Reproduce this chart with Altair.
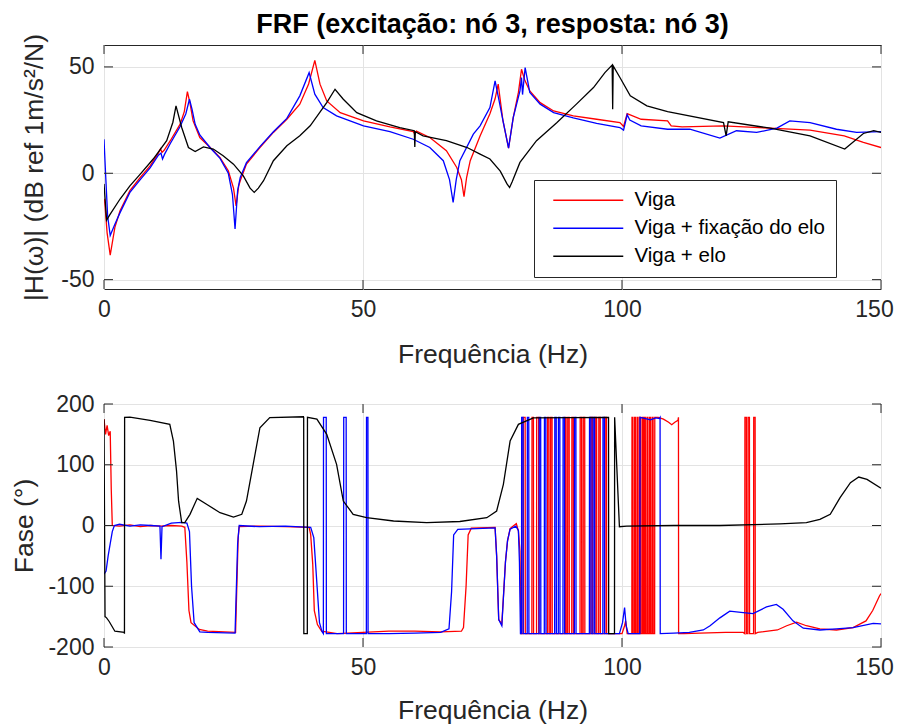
import altair as alt
import pandas as pd

SERIES = ["Viga", "Viga + fixação do elo", "Viga + elo"]
COLORS = ["#ff0000", "#0000ff", "#000000"]
FONT = "Liberation Sans"
TXT = "#262626"

# ---------------- magnitude (dB) ----------------
red_mag_f = [0.1, 0.6, 1.2, 2.1, 3.1, 5.0, 7.0, 8.9, 10.5, 10.9, 11.2, 11.6, 12.8, 14.7, 15.5, 16.1, 16.6, 17.2,
             18.5, 20.5, 22.4, 24.0, 25.0, 25.5, 26.0, 26.3, 27.5, 30.1, 32.7, 35.3, 37.8, 39.5, 40.7, 41.7, 43.0,
             45.6, 50.1, 55.2, 59.7, 60.0, 60.3, 62.9, 66.1, 68.1, 69.0, 69.5, 70.0, 70.7, 72.6, 74.5, 75.5, 76.1,
             77.0, 78.1, 79.0, 80.0, 80.6, 81.2, 82.2, 84.2, 86.8, 90.6, 95.1, 99.6, 100.3, 101.0, 103.7, 108.8,
             109.5, 111.6, 119.6, 128.6, 136.3, 142.9, 146.6, 150.0]
red_mag_db = [-12, -28, -38.5, -25.4, -17.6, -8.2, -2, 3.5, 9.5, 11.5, 9.8, 10.8, 15.3, 23.1, 29, 38.4, 33, 24.6,
              16.8, 12.1, 7.4, 1.2, -7, -15.3, -6, -3.5, 4.3, 12.1, 19.2, 25.4, 32.5, 42, 53.1, 41.9, 34.0,
              28.5, 24.6, 21.8, 19.6, 18.5, 19.8, 16.8, 10.6, 2.7, -3, -11.0, -2, 5.9, 17.5, 28, 35, 41.9,
              25, 11.8, 26.2, 38, 48.9, 44, 38.7, 33.2, 29.3, 27, 25.4, 23.8, 22, 28, 25.4, 24.6,
              22.3, 21.8, 22.3, 21.2, 20.3, 17.6, 14.5, 12.1]

blue_mag_f = [0.0, 0.3, 0.7, 1.2, 2.1, 3.1, 5.0, 7.0, 8.9, 10.5, 11.0, 11.3, 11.7, 12.8, 14.7, 15.8, 16.5, 17.0,
              17.6, 18.5, 20.5, 22.4, 24.0, 24.8, 25.3, 25.8, 26.3, 27.5, 30.1, 32.7, 35.3, 37.8, 39.6, 40.7,
              42.3, 44.9, 50.1, 55.2, 59.7, 62.9, 65.5, 66.7, 67.4, 68.0, 68.7, 71.3, 72.6, 74.5, 75.5, 76.2,
              77.0, 78.1, 79.0, 80.3, 80.6, 80.8, 81.3, 82.2, 84.2, 86.8, 90.6, 95.1, 99.6, 100.3, 101.0, 101.5,
              103.7, 108.8, 113.1, 118.9, 122.1, 126.0, 129.9, 132.4, 136.3, 141.4, 145.3, 150.0]
blue_mag_db = [16, 0, -20, -29.3, -24, -18.5, -9, -3, 2.5, 8.5, 9.5, 6.7, 9, 14, 22, 28, 34.8, 30,
               23, 18, 12, 7, 0, -10, -26.2, -8, -2, 5, 12.5, 19.5, 25.8, 36.4, 47.3, 37.2,
               30.9, 27.0, 22.3, 19.6, 16.0, 12.1, 5.9, -3, -13.7, -3, 5.9, 18.4, 22.3, 30.9, 43.4, 35,
               25, 11.8, 26.2, 38.7, 45, 37, 49.7, 38, 32.5, 28.5, 26, 23.5, 21.5, 20.3, 27.5, 25,
               22.3, 20.7, 20.7, 16.5, 20.0, 19.2, 21.2, 24.6, 23.8, 20.7, 19.2, 19.6]

black_mag_f = [0.0, 0.5, 1.2, 3.1, 5.0, 7.0, 9.5, 12.1, 13.3, 13.9, 15.0, 16.3, 17.6, 19.2, 21.1, 23.0, 25.0,
               26.9, 28.2, 29.0, 29.8, 30.8, 32.7, 35.3, 37.8, 39.8, 43.0, 44.6, 46.2, 48.8, 52.6, 57.1, 59.9,
               60.0, 60.1, 61.6, 66.1, 70.1, 72.6, 74.5, 76.5, 77.8, 78.3, 78.8, 80.3, 83.5, 87.4, 91.2, 94.5,
               96.7, 98.1, 98.2, 98.3, 99.6, 101.6, 104.8, 108.8, 119.6, 120.1, 120.5, 128.6, 136.3, 143.0,
               146.6, 148.6, 150.0]
black_mag_db = [-5, -22, -19.2, -12.1, -5.9, -0.4, 6.7, 15.3, 24, 31.7, 21.5, 12.1, 10.2, 12.4, 11.4, 8.2, 4.3,
                -1.2, -7, -9.0, -7, -3.5, 5.9, 12.9, 17.6, 22.3, 33.2, 39.5, 34.8, 28.5, 24.6, 21.5, 20.0,
                12.4, 19.5, 17.6, 15.3, 12.1, 9.0, 6.7, 1, -5, -6.7, -4, 5.1, 15.3, 23.8, 32.5, 40.3,
                47.3, 50.9, 30.1, 50.5, 45.0, 36.4, 31.7, 29.0, 23.8, 17.6, 24.2, 21.2, 17.6, 11.4,
                18.7, 20.0, 19.2]

# ---------------- phase (degrees) ----------------
red_ph_f = [0.0, 0.3, 0.6, 0.9, 1.2, 1.4, 1.6, 3, 5, 7, 9, 11, 13, 15, 15.6, 16.0, 16.4, 16.8, 18.4, 20, 25.4,
            25.9, 26.1, 30, 35, 39.6, 39.9, 40.3, 40.6, 41.2, 42.0, 45, 50, 55, 60, 65, 69.0, 69.4, 69.9, 70.3,
            70.9, 75.5, 75.8, 76.2, 76.8, 77.5, 77.9, 78.4, 79.0, 79.6, 80.0, 80.3, 80.5, 97.5, 100.0, 100.5,
            100.7, 101.0, 101.5, 107.0, 108.0, 109.0, 109.6, 110.2, 110.8, 112, 115, 120, 123.4, 126.2, 130,
            131.8, 133.7, 135.6, 138.2, 141.4, 144.6, 147.1, 148.4, 149.7, 150.0]
red_ph_v = [175, 150, 165, 148, 155, 60, 0, -1, 1, -2, 0, -1, 0, -1, -3, -60, -140, -160, -171, -174, -176,
            -20, -2, -1, -2, -3, -15, -64, -140, -163, -174, -178, -176, -174, -174, -175, -174, -168, -100, -15.5,
            -4.5, -3, -50, -155, -162, -60, -25.6, -5, -1, 3, -9, -42, -178, -178, -178, -165,
            -157, -178, -178, 178, 175, 170, 166, 170, 173, -178, -177, -176, -176, -176, -172,
            -165, -159, -165, -170, -172, -168, -157, -140, -116, -112]
# frequencies where the red phase wraps between +180 and -180 (start level, wrap list)
red_wraps = [
    (-178, [80.9, 81.3, 82.6, 82.9, 83.5, 83.9, 85.6, 85.9, 86.2, 86.5, 89.0, 89.2, 89.5, 89.8, 90.3, 90.6,
            91.9, 92.2, 92.5, 92.8, 94.0, 94.3, 94.8, 95.1, 95.5, 95.8, 96.7, 97.0]),
    (-178, [101.9, 102.1, 102.4, 102.6, 102.9, 103.1, 103.4, 103.6, 103.9, 104.1, 104.3, 104.5, 104.8, 105.0,
            105.3, 105.5, 105.8, 106.0, 106.3]),
    (178, [110.9]),
    (-178, [123.7, 124.0, 124.3, 124.6, 125.4, 125.7]),
]

blue_ph_f = [0, 0.4, 0.8, 1.2, 1.6, 2.0, 3, 5, 7, 9, 10.8, 11.0, 11.2, 13, 15, 16.0, 16.5, 16.9, 17.4, 18.5, 20,
             25.3, 25.8, 26.1, 30, 35, 39.9, 40.5, 40.9, 41.6, 42.1, 44, 48, 55, 60, 65, 66.6, 67.1, 67.5, 68.3,
             75.5, 75.8, 76.2, 76.8, 77.5, 77.9, 78.4, 79.5, 80.0, 80.2, 80.4, 97.5, 99.5, 100.1, 100.5, 100.8,
             101.2, 103.3, 104.5, 105.5, 106.5, 107.2, 110, 113, 115.7, 117, 118.9, 120.8, 123.4, 125.3, 127.9,
             129.8, 131.1, 133.0, 135.0, 138.2, 141.4, 144.6, 148.5, 150.0]
blue_ph_v = [-80, -75, -50, -30, -10, 0, 2, -1, 1, 0, -1, -55.7, -2, 4, 5, 4, -10, -100, -160, -175, -176,
             -177, -30, 0, -2, -1, -3, -20, -70, -160, -175, -178, -178, -178, -177, -176, -170, -109, -15.5, -6.3,
             -4, -50, -155, -165, -60, -25, -6, -1, -8, -60, -178, -178, -178, -160, -135, -165,
             -178, -178, 176, 174, 177, 176, -177, -176, -172, -165, -152, -141, -143.5, -145, -134,
             -130, -138, -157, -169, -172, -170, -168, -161, -162]
blue_wraps = [
    (-178, [42.35, 42.9]),
    (-178, [46.25, 46.75]),
    (-178, [50.65, 50.95]),
    (-178, [80.6, 80.9, 81.7, 82.0, 84.0, 84.3, 85.0, 85.3, 87.0, 87.3, 87.7, 88.0, 88.6, 88.9, 90.8, 91.1,
            93.7, 94.0, 94.4, 94.7, 96.3, 96.6]),
    (-178, [103.45]),
    (178, [107.35]),
]

black_ph_f = [0.0, 0.2, 0.5, 1.0, 2.1, 3.9, 5.0, 8.9, 12.7, 13.4, 14.0, 14.4, 15.0, 15.6, 16.6, 18.0, 19.8,
              22.4, 25.0, 26.6, 27.5, 28.8, 30.1, 32.0, 38.5, 39.2, 41.1, 43.0, 44.9, 46.2, 48.1, 50.7, 55.9,
              62.3, 68.7, 73.9, 75.8, 77.1, 78.4, 80.0, 82.9, 97.3, 98.5, 99.5, 100.9, 110, 118.9, 130.5,
              135.6, 138.2, 140.2, 142.1, 144.1, 145.7, 147.3, 150.0]
black_ph_v = [175, -150, -152, -158, -174, -176, 178.5, 173, 166.5, 139, 90, 40, 4.6, 4.6, 18.4, 44.7, 34.9,
              21.1, 14, 18.4, 40.3, 100.7, 161, 177.5, 179, -178, 175, 150, 100.7, 40.3, 18.4, 12.9, 7.4,
              4.6, 6.6, 12.9, 23.9, 67.8, 139, 166.5, 177, 178, -178, -2, -1, 0, 0, 2.7,
              4.6, 10, 18.4, 45.8, 70.5, 79.8, 76, 61.2]
black_wraps = [
    (-178, [3.95]),
    (178, [38.55, 39.25]),
    (178, [97.4]),
    (-178, [98.55]),
]


def phase_points(fs, vs, wraps):
    pts = list(zip(fs, vs))
    for level, ws in wraps:
        for w in ws:
            pts.append((w, level))
            level = -level
            pts.append((w + 0.03, level))
    pts.sort(key=lambda p: p[0])
    return pts


def frame(name, pts):
    return pd.DataFrame({"f": [p[0] for p in pts], "v": [p[1] for p in pts], "s": name})


mag_df = pd.concat([
    frame(SERIES[0], list(zip(red_mag_f, red_mag_db))),
    frame(SERIES[1], list(zip(blue_mag_f, blue_mag_db))),
    frame(SERIES[2], list(zip(black_mag_f, black_mag_db))),
])
ph_df = pd.concat([
    frame(SERIES[0], phase_points(red_ph_f, red_ph_v, red_wraps)),
    frame(SERIES[1], phase_points(blue_ph_f, blue_ph_v, blue_wraps)),
    frame(SERIES[2], phase_points(black_ph_f, black_ph_v, black_wraps)),
])

x_ticks = [0, 50, 100, 150]
mag_ticks = [-50, 0, 50]
ph_ticks = [-200, -100, 0, 100, 200]

W = 777
H1 = 244
H2 = 243
LBL = "replace(datum.label, '\u2212', '-')"

xscale = alt.Scale(domain=[0, 150], nice=False, zero=False)


def xax(tpad):
    return alt.Axis(values=x_ticks, title="Frequência (Hz)", grid=True, ticks=False, domain=False,
                    labelPadding=9, titlePadding=tpad, labelFlush=False,
                    labelOffset={"condition": {"test": "datum.value >= 150", "value": -7}, "value": 0})


def yax(vals, title, tpad):
    return alt.Axis(values=vals, title=title, grid=True, ticks=False, domain=False,
                    labelPadding=10, titlePadding=tpad, labelExpr=LBL, labelFlush=False)


def panel(df, yscale, yticks, ytitle, height, legend, xtpad, ytpad):
    YAX = yax(yticks, ytitle, ytpad)
    XAX = xax(xtpad)
    layers = []
    for i, name in enumerate(SERIES):
        if legend:
            col = alt.Color("s:N", scale=alt.Scale(domain=SERIES, range=COLORS),
                            legend=alt.Legend(orient="none", legendX=430, legendY=135, title=None,
                                              fillColor="white", strokeColor=TXT, padding=10,
                                              symbolType="M-0.14,0H9.86", symbolSize=196, symbolStrokeWidth=1.5,
                                              labelFontSize=20.5, labelFont=FONT, labelColor="#000000",
                                              labelOffset=70, rowPadding=7, labelLimit=400))
        else:
            col = alt.value(COLORS[i])
        layers.append(
            alt.Chart(df).transform_filter(alt.datum.s == name).mark_line(strokeWidth=1.3, clip=True).encode(
                x=alt.X("f:Q", scale=xscale, axis=XAX),
                y=alt.Y("v:Q", scale=yscale, axis=YAX),
                color=col,
            )
        )
    xt = pd.DataFrame({"f": x_ticks})
    yt = pd.DataFrame({"v": yticks})
    tick_layers = [
        alt.Chart(xt).mark_rule(color=TXT, strokeWidth=1).encode(
            x=alt.X("f:Q", scale=xscale, axis=XAX), y=alt.value(0), y2=alt.value(9)),
        alt.Chart(xt).mark_rule(color=TXT, strokeWidth=1).encode(
            x=alt.X("f:Q", scale=xscale, axis=XAX), y=alt.value(height), y2=alt.value(height - 9)),
        alt.Chart(yt).mark_rule(color=TXT, strokeWidth=1).encode(
            y=alt.Y("v:Q", scale=yscale, axis=YAX), x=alt.value(0), x2=alt.value(9)),
        alt.Chart(yt).mark_rule(color=TXT, strokeWidth=1).encode(
            y=alt.Y("v:Q", scale=yscale, axis=YAX), x=alt.value(W), x2=alt.value(W - 9)),
    ]
    return alt.layer(*layers, *tick_layers).properties(width=W, height=height)


top = panel(mag_df, alt.Scale(domain=[-54.4, 60.3], nice=False, zero=False), mag_ticks,
            "|H(ω)| (dB ref 1m/s²/N)", H1, True, 20, 12).properties(
    title=alt.TitleParams(text="FRF (excitação: nó 3, resposta: nó 3)", fontSize=27, font=FONT,
                          fontWeight="bold", color="#000000", anchor="middle", frame="group", offset=-6))
bottom = panel(ph_df, alt.Scale(domain=[-200, 200], nice=False, zero=False), ph_ticks,
               "Fase (°)", H2, False, 18, 9)

chart = alt.vconcat(top, bottom, spacing=24).resolve_scale(color="independent").properties(
    padding={"left": 3, "top": 2, "right": 0, "bottom": 0}
).configure_view(stroke=TXT, strokeWidth=1).configure_axis(
    labelFont=FONT, titleFont=FONT, labelFontSize=23, titleFontSize=26.5, labelColor=TXT, titleColor=TXT,
    titleFontWeight="normal", gridColor="#e3e3e3", gridWidth=1
)

chart.save("out.html", embed_options={"renderer": "svg", "actions": False})
